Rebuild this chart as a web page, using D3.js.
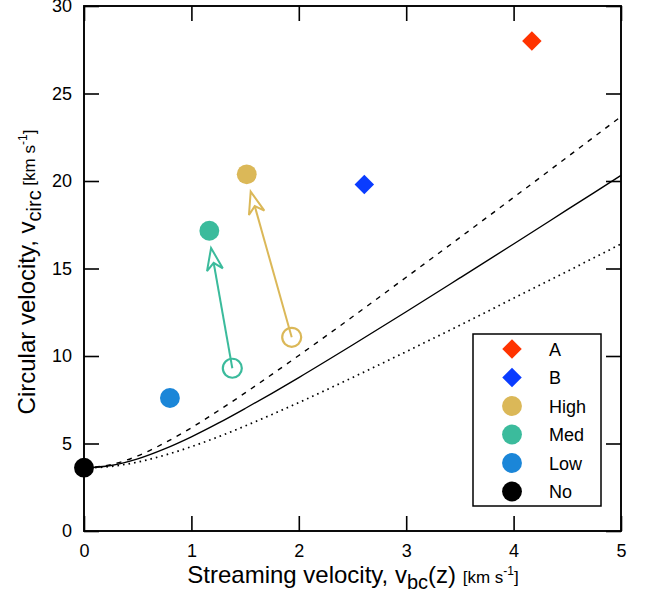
<!DOCTYPE html>
<html><head><meta charset="utf-8">
<script src="https://cdn.jsdelivr.net/npm/d3@7"></script>
<style>body{margin:0;background:#fff}svg{display:block}text{font-family:"Liberation Sans",Arial,Helvetica,sans-serif}</style>
</head><body>
<script>
// ---- data ----
const xTicks = [0, 1, 2, 3, 4, 5];
const yTicks = [0, 5, 10, 15, 20, 25, 30];
const curveV = [0, 0.25, 0.5, 0.75, 1.0, 1.25, 1.5, 1.75, 2.0, 2.5, 3.0, 3.5, 4.0, 4.5, 5.0];
const solidC = [3.60, 3.74, 4.12, 4.69, 5.38, 6.16, 7.00, 7.87, 8.77, 10.63, 12.53, 14.46, 16.40, 18.36, 20.32];
const dashedC = [3.60, 3.79, 4.29, 5.03, 5.90, 6.87, 7.89, 8.95, 10.03, 12.24, 14.50, 16.77, 19.06, 21.37, 23.68];
const dottedC = [3.60, 3.69, 3.94, 4.33, 4.82, 5.38, 6.00, 6.66, 7.34, 8.77, 10.25, 11.76, 13.30, 14.84, 16.40];
const labels = ["A", "B", "High", "Med", "Low", "No"];
const colors = ["#ff3300", "#0a3cff", "#dbb858", "#3bbb9c", "#1b86d8", "#000000"];
const shapes = ["diamond", "diamond", "circle", "circle", "circle", "circle"];
const pointX = [4.17, 2.61, 1.515, 1.167, 0.80, 0.0];
const pointY = [28.0, 19.8, 20.38, 17.16, 7.6, 3.62];
// arrows (open-circle start -> arrow tip)
const arrowLabels = ["High", "Med"];
const arrowStartX = [1.934, 1.381];
const arrowStartY = [11.07, 9.30];
const arrowEndX = [1.552, 1.183];
const arrowEndY = [19.39, 16.17];

const W = 649, H = 595;
const svg = d3.select("body").append("svg").attr("width", W).attr("height", H);
const x = d3.scaleLinear().domain([0, 5]).range([84, 621]);
const y = d3.scaleLinear().domain([0, 30]).range([531, 6]);

// axes
const tk = 15;
const gB = svg.append("g").attr("transform", `translate(0,${y(0)})`)
  .call(d3.axisBottom(x).tickValues(xTicks).tickSize(-tk).tickPadding(13).tickFormat(d3.format("d")));
const gL = svg.append("g").attr("transform", `translate(${x(0)},0)`)
  .call(d3.axisLeft(y).tickValues(yTicks).tickSize(-tk).tickPadding(12).tickFormat(d3.format("d")));
const gT = svg.append("g").attr("transform", `translate(0,${y(30)})`)
  .call(d3.axisTop(x).tickValues(xTicks).tickSize(-tk).tickFormat(""));
const gR = svg.append("g").attr("transform", `translate(${x(5)},0)`)
  .call(d3.axisRight(y).tickValues(yTicks).tickSize(-tk).tickFormat(""));
[gB, gL, gT, gR].forEach(g => {
  g.select(".domain").remove();
  g.selectAll(".tick line").attr("stroke", "#000").attr("stroke-width", 1.6);
  g.selectAll(".tick text").attr("fill", "#000").style("font-size", "18px").style("font-family", '"Liberation Sans",Arial,sans-serif');
});
svg.append("rect").attr("x", x(0)).attr("y", y(30)).attr("width", x(5) - x(0)).attr("height", y(0) - y(30))
  .attr("fill", "none").attr("stroke", "#000").attr("stroke-width", 1.9);

// curves
const line = d3.line().x((d, i) => x(curveV[i])).y(d => y(d)).curve(d3.curveMonotoneX);
svg.append("path").attr("d", line(solidC)).attr("fill", "none").attr("stroke", "#000").attr("stroke-width", 1.4);
svg.append("path").attr("d", line(dashedC)).attr("fill", "none").attr("stroke", "#000").attr("stroke-width", 1.4).attr("stroke-dasharray", "5,6");
svg.append("path").attr("d", line(dottedC)).attr("fill", "none").attr("stroke", "#000").attr("stroke-width", 1.7).attr("stroke-dasharray", "1.6,4");

// arrows
arrowLabels.forEach((lab, i) => {
  const col = colors[labels.indexOf(lab)];
  const sx = x(arrowStartX[i]), sy = y(arrowStartY[i]);
  const ex = x(arrowEndX[i]), ey = y(arrowEndY[i]);
  const dx = ex - sx, dy = ey - sy, L = Math.hypot(dx, dy);
  const ux = dx / L, uy = dy / L, nx = -uy, ny = ux;
  const hl = 22, hw = 8, notch = 15;
  const bx = ex - ux * notch, by = ey - uy * notch;
  svg.append("circle").attr("cx", sx).attr("cy", sy).attr("r", 9.5).attr("fill", "#fff").attr("stroke", col).attr("stroke-width", 2.2);
  svg.append("line").attr("x1", sx).attr("y1", sy).attr("x2", bx).attr("y2", by).attr("stroke", col).attr("stroke-width", 2);
  const pts = [[ex, ey], [ex - ux * hl + nx * hw, ey - uy * hl + ny * hw], [bx, by], [ex - ux * hl - nx * hw, ey - uy * hl - ny * hw]];
  svg.append("path").attr("d", "M" + pts.map(p => p.join(",")).join("L") + "Z")
    .attr("fill", "#fff").attr("stroke", col).attr("stroke-width", 2).attr("stroke-linejoin", "miter");
});

// points
const sym = (s, size) => d3.symbol().type(s === "diamond" ? d3.symbolSquare : d3.symbolCircle).size(size)();
labels.forEach((lab, i) => {
  const g = svg.append("path").attr("d", sym(shapes[i], shapes[i] === "diamond" ? 190 : 310)).attr("fill", colors[i]);
  g.attr("transform", `translate(${x(pointX[i])},${y(pointY[i])})` + (shapes[i] === "diamond" ? " rotate(45)" : ""));
});

// legend
const lg = svg.append("g");
lg.append("rect").attr("x", 473).attr("y", 334).attr("width", 128).attr("height", 172).attr("fill", "#fff").attr("stroke", "#000").attr("stroke-width", 1.5);
labels.forEach((lab, i) => {
  const cy = 349 + i * 28.5;
  lg.append("path").attr("d", sym(shapes[i], shapes[i] === "diamond" ? 190 : 310)).attr("fill", colors[i])
    .attr("transform", `translate(512,${cy})` + (shapes[i] === "diamond" ? " rotate(45)" : ""));
  lg.append("text").attr("x", 549).attr("y", cy + 6.5).style("font-size", "18px").text(lab);
});

// axis titles
const xt = svg.append("text").attr("x", 353).attr("y", 583).attr("text-anchor", "middle").style("font-size", "24px");
xt.append("tspan").text("Streaming velocity, v");
xt.append("tspan").attr("dy", 6).style("font-size", "20px").text("bc");
xt.append("tspan").attr("dy", -6).text("(z) ");
xt.append("tspan").style("font-size", "17px").text("[km s");
xt.append("tspan").attr("dy", -8).style("font-size", "12px").text("-1");
xt.append("tspan").attr("dy", 8).style("font-size", "17px").text("]");

const yt = svg.append("text").attr("transform", "translate(34.5,272) rotate(-90)").attr("text-anchor", "middle").style("font-size", "24px");
yt.append("tspan").text("Circular velocity, v");
yt.append("tspan").attr("dy", 6).style("font-size", "20px").text("circ");
yt.append("tspan").attr("dy", -6).style("font-size", "17px").text(" [km s");
yt.append("tspan").attr("dy", -8).style("font-size", "12px").text("-1");
yt.append("tspan").attr("dy", 8).style("font-size", "17px").text("]");
</script>
</body></html>
